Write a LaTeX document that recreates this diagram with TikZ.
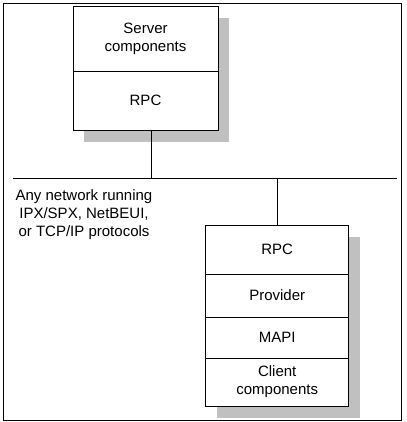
\documentclass[tikz,border=0pt]{standalone}
\usepackage{fontspec}
\setmainfont{Liberation Sans}
\usetikzlibrary{positioning}
\pgfdeclarelayer{background}
\pgfsetlayers{background,main}
\definecolor{shadowgray}{RGB}{192,192,192}

\begin{document}
\begin{tikzpicture}[x=1pt, y=-1pt, line width=0.8pt,
  layer/.style = {draw, fill=white, rectangle, align=center, inner sep=0pt, outer sep=0pt, font=\fontsize{15}{18}\selectfont},
  shade/.style = {fill=shadowgray, draw=none}]
\useasboundingbox (0,0) rectangle (406,422);
\draw (3,3) rectangle (401,420);

% server side
\node[layer, minimum width=145pt, minimum height=65pt] (srv) at (145.5,38.5) {Server\\components};
\node[layer, minimum width=145pt, minimum height=59pt] (srvrpc) [below=0pt of srv] {RPC};

% client side
\node[layer, minimum width=143pt, minimum height=49pt] (clirpc) at (277.2,249.5) {RPC};
\node[layer, minimum width=143pt, minimum height=43pt] (prov) [below=0pt of clirpc] {Provider};
\node[layer, minimum width=143pt, minimum height=41pt] (mapi) [below=0pt of prov] {MAPI};
\node[layer, minimum width=143pt, minimum height=48pt] (cli) [below=0pt of mapi] {Client\\components};

\begin{pgfonlayer}{background}
\fill[shade] ([xshift=11pt,yshift=-12pt]srv.north west) rectangle ([xshift=11pt,yshift=-12pt]srvrpc.south east);
\fill[shade] ([xshift=11pt,yshift=-12pt]clirpc.north west) rectangle ([xshift=11pt,yshift=-12pt]cli.south east);
\end{pgfonlayer}

% network
\coordinate (netL) at (13,178);
\coordinate (netR) at (397,178);
\coordinate (tapS) at (151,178);
\draw (netL) -- (netR);
\draw (tapS) -- (tapS |- srvrpc.south);
\draw (clirpc.north) -- (clirpc.north |- netL);

\node[align=center, inner sep=0pt, font=\fontsize{15}{18}\selectfont] (net) at (84,215) {Any network running\\IPX/SPX, NetBEUI,\\or TCP/IP protocols};
\end{tikzpicture}
\end{document}
